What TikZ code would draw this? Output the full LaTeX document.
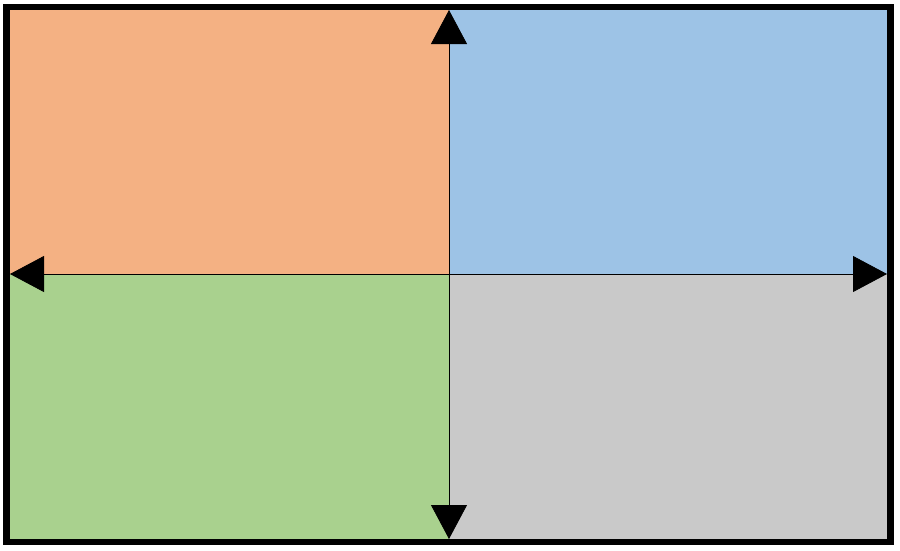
\documentclass[tikz,border=0pt]{standalone}
\usetikzlibrary{arrows.meta}
\definecolor{qorange}{RGB}{244,177,131}
\definecolor{qblue}{RGB}{157,195,230}
\definecolor{qgreen}{RGB}{169,209,142}
\definecolor{qgray}{RGB}{201,201,201}
\tikzset{
  axis/.style={line width=0.8pt, draw=black, {Triangle[length=34pt,width=36pt]}-{Triangle[length=34pt,width=36pt]}},
  frame/.style={line width=6.5pt, draw=black}
}
\begin{document}
\begin{tikzpicture}[x=1pt,y=-1pt]
\useasboundingbox (0,0) rectangle (900,550);
\fill[white] (0,0) rectangle (900,550);
\coordinate (c) at (449,274);
\coordinate (tl) at (6.5,7);
\coordinate (br) at (890.5,542);
\fill[qorange] (tl) rectangle (c);
\fill[qblue] (c |- tl) rectangle (br |- c);
\fill[qgreen] (tl |- c) rectangle (c |- br);
\fill[qgray] (c) rectangle (br);
\coordinate (top) at (449,10);
\coordinate (bot) at (449,539);
\coordinate (lft) at (10,274);
\coordinate (rgt) at (887,274);
\draw[axis] (top) -- (bot);
\draw[axis] (lft) -- (rgt);
\draw[frame] (tl) rectangle (br);
\end{tikzpicture}
\end{document}
